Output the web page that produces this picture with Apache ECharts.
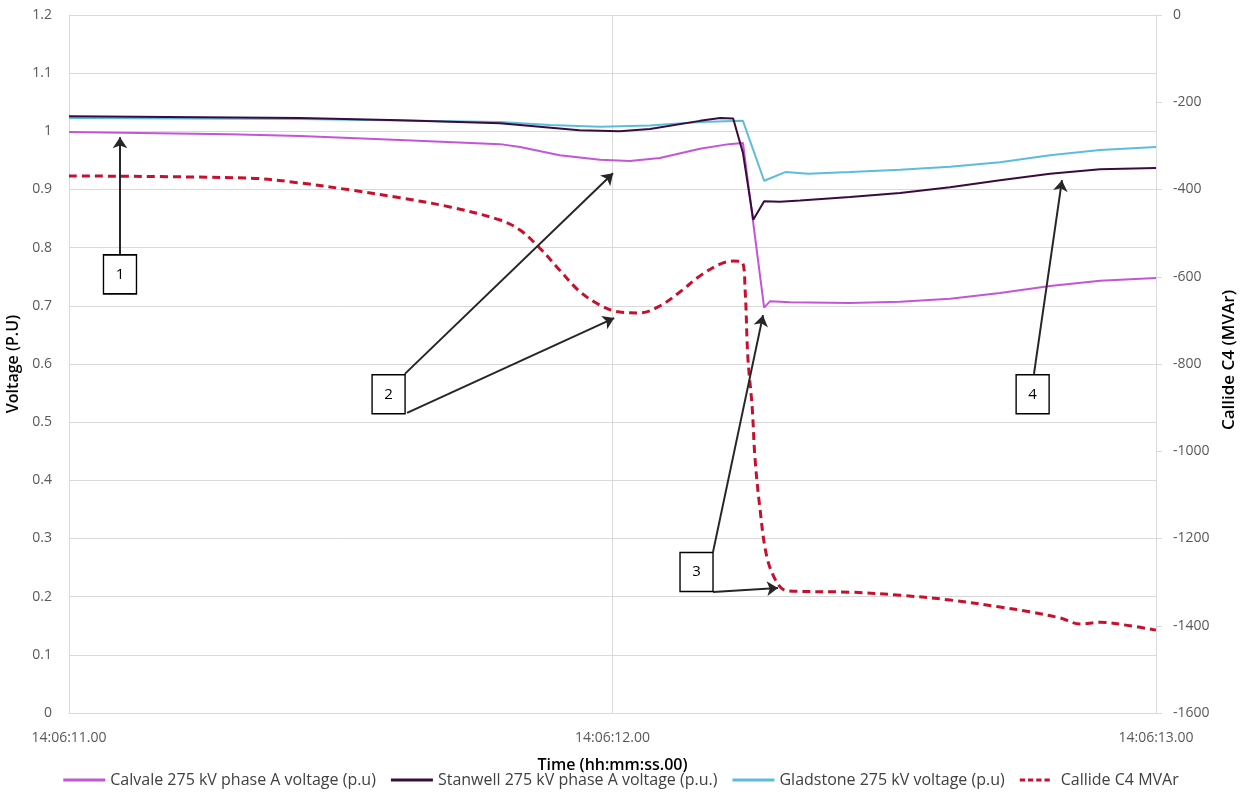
<!DOCTYPE html>
<html><head><meta charset="utf-8">
<script src="https://cdn.jsdelivr.net/npm/echarts@6/dist/echarts.min.js"></script>
<style>html,body{margin:0;padding:0;background:#fff}#c{width:1242px;height:793px}</style>
</head><body><div id="c"></div>
<script>
// time in seconds after 14:06:11.00
const xTicks = ['14:06:11.00', '14:06:12.00', '14:06:13.00'];
const seriesNames = ['Calvale 275 kV phase A voltage (p.u)', 'Stanwell 275 kV phase A voltage (p.u.)', 'Gladstone 275 kV voltage (p.u)', 'Callide C4 MVAr'];

const calvale = [[0,0.999],[0.296,0.995],[0.425,0.992],[0.609,0.985],[0.793,0.978],[0.830,0.973],[0.903,0.959],[0.977,0.951],[1.032,0.949],[1.087,0.954],[1.161,0.970],[1.214,0.978],[1.240,0.980],[1.242,0.977],[1.279,0.697],[1.290,0.708],[1.327,0.706],[1.437,0.705],[1.529,0.707],[1.621,0.712],[1.713,0.722],[1.805,0.734],[1.897,0.743],[2.0,0.748]];
const stanwell = [[0,1.026],[0.425,1.023],[0.609,1.019],[0.793,1.014],[0.866,1.008],[0.939,1.002],[1.013,1.000],[1.069,1.004],[1.161,1.018],[1.198,1.023],[1.222,1.022],[1.240,0.963],[1.259,0.848],[1.279,0.880],[1.308,0.879],[1.345,0.881],[1.437,0.887],[1.529,0.894],[1.621,0.904],[1.713,0.916],[1.805,0.927],[1.897,0.935],[2.0,0.937]];
const gladstone = [[0,1.023],[0.425,1.021],[0.793,1.016],[0.885,1.011],[0.977,1.008],[1.069,1.010],[1.161,1.016],[1.240,1.018],[1.279,0.915],[1.318,0.930],[1.360,0.927],[1.437,0.930],[1.529,0.934],[1.621,0.939],[1.713,0.947],[1.805,0.959],[1.897,0.968],[2.0,0.973]];
const callide = [[0,-369],[0.333,-374],[0.425,-385],[0.517,-401],[0.609,-419],[0.701,-440],[0.793,-470],[0.830,-493],[0.866,-534],[0.903,-585],[0.939,-633],[0.977,-665],[1.013,-681],[1.050,-683],[1.087,-667],[1.124,-635],[1.161,-598],[1.198,-571],[1.222,-564],[1.238,-566],[1.244,-630],[1.249,-784],[1.257,-899],[1.262,-1013],[1.271,-1128],[1.284,-1242],[1.303,-1302],[1.321,-1320],[1.437,-1323],[1.529,-1330],[1.621,-1341],[1.713,-1357],[1.768,-1368],[1.823,-1382],[1.860,-1396],[1.897,-1392],[1.952,-1400],[2.0,-1410]];

// annotation boxes [t, voltage, label] and arrows [[t1,v1],[t2,v2]]
const boxes = [[0.0938,0.754,'1'],[0.588,0.548,'2'],[1.1546,0.2424,'3'],[1.773,0.548,'4']];
const arrows = [
  [[0.0938,0.789],[0.0938,0.990]],
  [[0.618,0.583],[1.001,0.928]],
  [[0.622,0.516],[1.003,0.679]],
  [[1.185,0.277],[1.277,0.684]],
  [[1.185,0.208],[1.3045,0.215]],
  [[1.7755,0.583],[1.827,0.916]]
];

const colors = ['#C455D8', '#3A0C3E', '#5BBDDD', '#C8102E'];
const font = '"Open Sans", "Noto Sans", sans-serif';
const dashIcon = 'path://M0,0h7v4h-7zM11,0h7v4h-7zM22,0h7v4h-7zM33,0h7v4h-7z';

const chart = echarts.init(document.getElementById('c'), null, {renderer: 'canvas'});
chart.setOption({
  animation: false,
  textStyle: {fontFamily: font},
  grid: {left: 69, right: 86, top: 15, bottom: 80, containLabel: false, outerBoundsMode: 'none'},
  legend: {
    data: [
      {name: seriesNames[0], icon: 'rect'},
      {name: seriesNames[1], icon: 'rect'},
      {name: seriesNames[2], icon: 'rect'},
      {name: seriesNames[3], icon: dashIcon}
    ],
    top: 772, left: 'center', padding: 0, itemWidth: 42, itemHeight: 3, itemGap: 15,
    textStyle: {fontFamily: font, fontSize: 16, color: '#404040'}
  },
  xAxis: {
    type: 'value', min: 0, max: 2, interval: 1,
    name: 'Time (hh:mm:ss.00)', nameLocation: 'middle', nameGap: 44,
    nameTextStyle: {fontFamily: font, fontSize: 16, fontWeight: 600, color: '#000'},
    axisLine: {show: true, lineStyle: {color: '#D9D9D9'}},
    axisTick: {show: false},
    axisLabel: {formatter: v => xTicks[Math.round(v)], fontSize: 14, color: '#595959', margin: 18},
    splitLine: {show: true, lineStyle: {color: '#D9D9D9'}}
  },
  yAxis: [{
    type: 'value', min: 0, max: 1.2, interval: 0.1, position: 'left',
    name: 'Voltage (P.U)', nameLocation: 'middle', nameGap: 42, nameRotate: 90,
    nameTextStyle: {fontFamily: font, fontSize: 16, fontWeight: 600, color: '#000'},
    axisLine: {show: true, lineStyle: {color: '#D9D9D9'}},
    axisTick: {show: false},
    axisLabel: {fontSize: 14, color: '#595959', margin: 17, formatter: v => String(+v.toFixed(1))},
    splitLine: {show: true, lineStyle: {color: '#D9D9D9'}}
  }, {
    type: 'value', min: -1600, max: 0, interval: 200, position: 'right',
    name: 'Callide C4 (MVAr)', nameLocation: 'middle', nameGap: 63, nameRotate: 90,
    nameTextStyle: {fontFamily: font, fontSize: 17, fontWeight: 600, color: '#000', padding: [0, 0, 0, 8]},
    axisLine: {show: true, lineStyle: {color: '#D9D9D9'}},
    axisTick: {show: true, length: 6, lineStyle: {color: '#D9D9D9'}},
    axisLabel: {fontSize: 14, color: '#595959', margin: 17, formatter: v => String(v)},
    splitLine: {show: false}
  }],
  series: [
    {name: seriesNames[0], type: 'line', data: calvale, yAxisIndex: 0, symbol: 'none', color: colors[0], lineStyle: {width: 2, color: colors[0]}, z: 3},
    {name: seriesNames[1], type: 'line', data: stanwell, yAxisIndex: 0, symbol: 'none', color: colors[1], lineStyle: {width: 2, color: colors[1]}, z: 4},
    {name: seriesNames[2], type: 'line', data: gladstone, yAxisIndex: 0, symbol: 'none', color: colors[2], lineStyle: {width: 2, color: colors[2]}, z: 3},
    {name: seriesNames[3], type: 'line', data: callide, yAxisIndex: 1, symbol: 'none', smooth: 0.35, color: colors[3], lineStyle: {width: 3, color: colors[3], type: [8, 5]}, z: 2},
    {name: 'arrows', type: 'lines', coordinateSystem: 'cartesian2d', xAxisIndex: 0, yAxisIndex: 0, z: 5,
      symbol: ['none', 'arrow'], symbolSize: 11,
      lineStyle: {color: '#262626', width: 2, opacity: 1},
      data: arrows.map(a => ({coords: a}))},
    {name: 'boxes', type: 'scatter', xAxisIndex: 0, yAxisIndex: 0, z: 6, symbol: 'rect', symbolSize: [33, 39],
      itemStyle: {color: '#fff', borderColor: '#000', borderWidth: 1.5, opacity: 1},
      label: {show: true, position: 'inside', formatter: p => p.data[2], fontSize: 15, color: '#000', fontFamily: font},
      data: boxes, silent: true}
  ]
});
</script></body></html>
